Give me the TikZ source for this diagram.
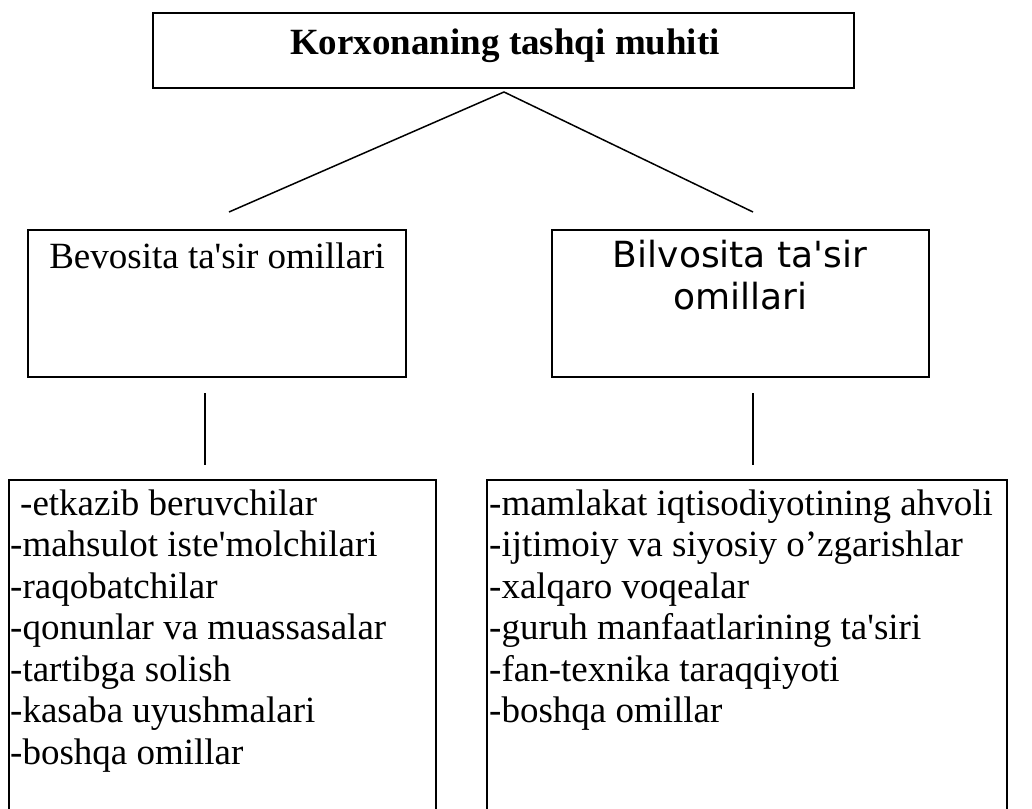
\documentclass[tikz,border=0pt]{standalone}
\usepackage{fontspec}
\setmainfont{Liberation Serif}
\newfontfamily\dejavu{DejaVu Sans}
\newcommand{\apos}{\textquotesingle}
\tikzset{
  box/.style={draw, line width=2pt, inner sep=0pt, outer sep=0pt},
  conn/.style={line width=1.5pt},
  txt/.style={inner sep=0pt, anchor=base, font=\fontsize{37}{42}\selectfont},
  item/.style={inner sep=0pt, anchor=base west, font=\fontsize{37}{42}\selectfont},
}
\begin{document}
\begin{tikzpicture}[x=1pt,y=-1pt]
\useasboundingbox (0,0) rectangle (1032,808);
\clip (0,0) rectangle (1032,808);
\fill[white] (0,0) rectangle (1032,808);
% boxes
\node[box, minimum width=701pt, minimum height=75pt] (top) at (503.5,50.5) {};
\node[box, minimum width=378pt, minimum height=147pt] (lb) at (217,303.5) {};
\node[box, minimum width=377pt, minimum height=147pt] (rb) at (740.5,303.5) {};
\node[box, minimum width=427pt, minimum height=360pt] (ll) at (222.5,660) {};
\node[box, minimum width=520pt, minimum height=360pt] (rl) at (747,660) {};
% texts
\node[txt, font=\bfseries\fontsize{37}{42}\selectfont] (t0) at (505,55) {Korxonaning tashqi muhiti};
\node[txt] (t1) at (217,268) {Bevosita ta\apos{}sir omillari};
\node[txt, font=\dejavu\fontsize{36}{42}\selectfont] (t2) at (740,267) {Bilvosita ta\apos{}sir};
\node[txt, font=\dejavu\fontsize{36}{42}\selectfont] (t3) at (740,309) {omillari};
% connectors
\coordinate (apex) at (504,92);
\coordinate (ea) at (229,212);
\coordinate (eb) at (753,212);
\coordinate (va1) at (205,393);
\coordinate (va2) at (205,465);
\coordinate (vb1) at (753,393);
\coordinate (vb2) at (753,465);
\draw[conn] (ea) -- (apex) -- (eb);
\draw[conn] (va1) -- (va2);
\draw[conn] (vb1) -- (vb2);
% lists
\node[item] (l1) at (20,515) {-etkazib beruvchilar};
\node[item] (l2) at (10,556.5) {-mahsulot iste\apos{}molchilari};
\node[item] (l3) at (10,598) {-raqobatchilar};
\node[item] (l4) at (10,639.5) {-qonunlar va muassasalar};
\node[item] (l5) at (10,681) {-tartibga solish};
\node[item] (l6) at (10,722.5) {-kasaba uyushmalari};
\node[item] (l7) at (10,764) {-boshqa omillar};
\node[item] (r1) at (489,515) {-mamlakat iqtisodiyotining ahvoli};
\node[item] (r2) at (489,556.5) {-ijtimoiy va siyosiy o’zgarishlar};
\node[item] (r3) at (489,598) {-xalqaro voqealar};
\node[item] (r4) at (489,639.5) {-guruh manfaatlarining ta\apos{}siri};
\node[item] (r5) at (489,681) {-fan-texnika taraqqiyoti};
\node[item] (r6) at (489,722.5) {-boshqa omillar};
\end{tikzpicture}
\end{document}
